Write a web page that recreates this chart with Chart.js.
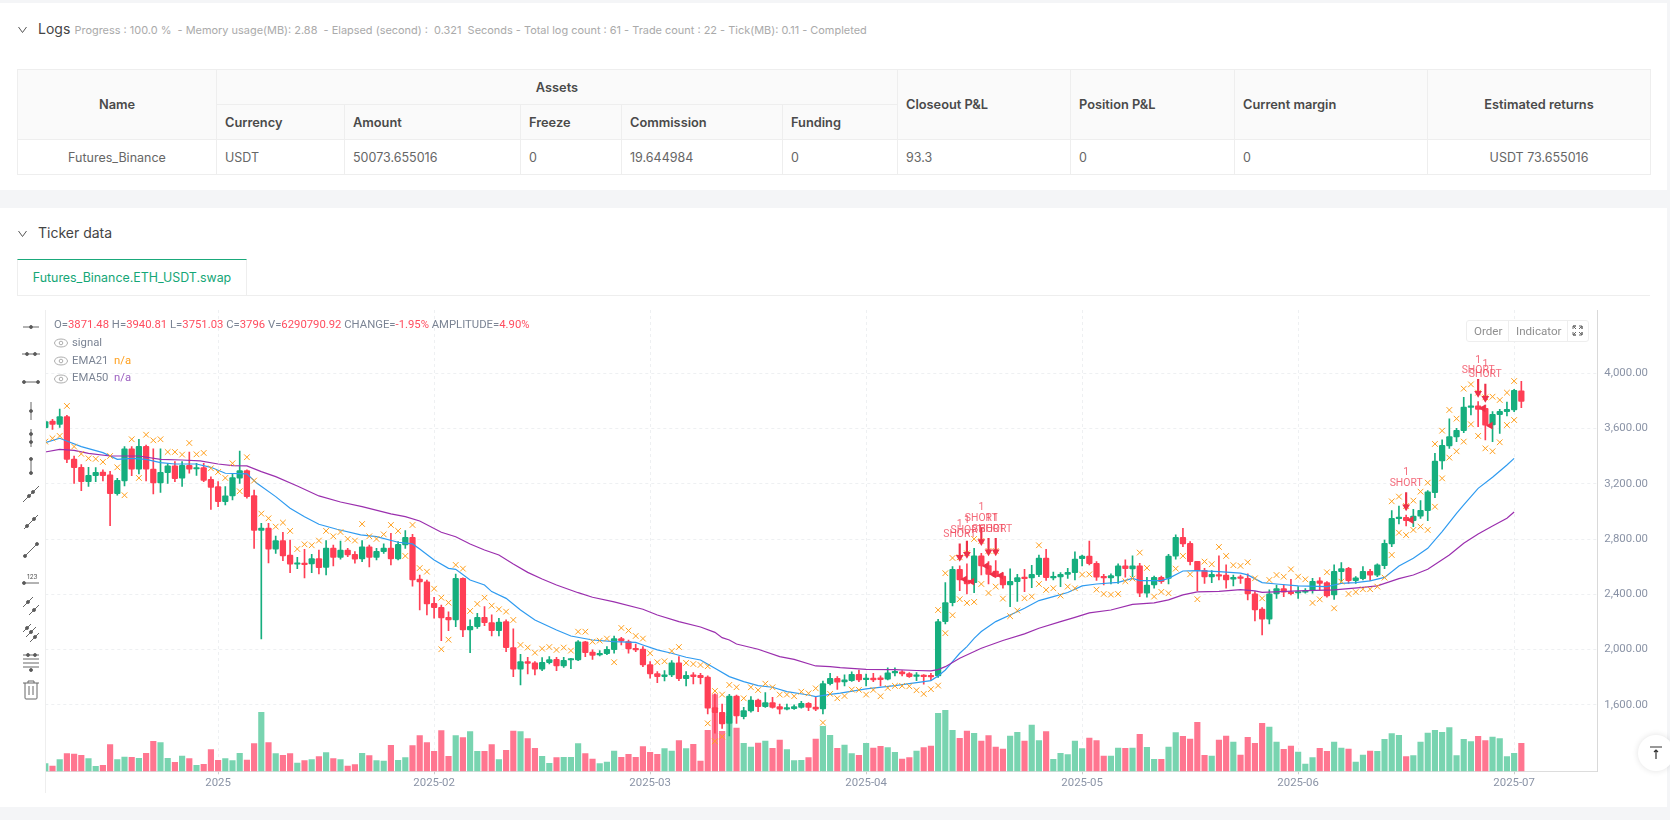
<!DOCTYPE html>
<html>
<head>
<meta charset="utf-8">
<title>Ticker data</title>
<script src="https://cdn.jsdelivr.net/npm/chart.js@4/dist/chart.umd.min.js"></script>
<style>
  html, body { margin: 0; padding: 0; width: 1670px; height: 820px; overflow: hidden; background: #f4f5f7; font-family: Inter, "Noto Sans", sans-serif; color: #555; }
  .panel { position: absolute; left: 0; width: 1667px; background: #fff; }
  .abs { position: absolute; white-space: nowrap; }
  .head { font-size: 14px; color: #444; line-height: 20px; }
  .chev { position: absolute; left: 18px; width: 9px; height: 9px; }
  table { position: absolute; left: 17px; top: 69px; width: 1633px; border-collapse: collapse; table-layout: fixed; font-size: 12.5px; color: #666; }
  th, td { border: 1px solid #eee; padding: 0 8px; text-align: left; font-weight: 400; }
  th { background: #fafafa; color: #4a4a4a; font-weight: 600; height: 34px; font-size: 12.8px; }
  td { height: 34px; }
  .c { text-align: center; }
  #tab { left: 17px; top: 259px; width: 228px; height: 35px; border: 1px solid #eee; border-top: 1.5px solid #1aa97b; border-bottom: 0; color: #14a676; font-size: 12.4px; line-height: 35px; text-align: center; box-sizing: content-box; }
  #sep { left: 17px; top: 295px; width: 1633px; height: 1px; background: #eee; }
  #chart { position: absolute; left: 0; top: 300px; }
  #lefty { left: 45px; top: 310px; width: 1px; height: 483px; background: #eee; }
  .leg { font-family: Roboto, sans-serif; font-size: 11.3px; color: #7b8494; line-height: 16px; }
  .leg b { font-weight: 400; color: #ff4d5f; }
  .eye { position: absolute; left: 54px; width: 14px; height: 10px; }
  .tool { position: absolute; left: 20px; width: 22px; height: 22px; }
  #btns { left: 1466px; top: 320px; width: 121px; height: 20px; border: 1px solid #eee; border-radius: 3px; background: #fff; font-family: Roboto, sans-serif; font-size: 11.6px; color: #8f8f8f; line-height: 20px; }
  #btns span { position: absolute; top: 0; }
  #up { left: 1638px; top: 735px; width: 36px; height: 36px; border-radius: 18px; background: #fff; box-shadow: 0 0 6px rgba(0,0,0,.12); }
</style>
</head>
<body>
<div class="panel" style="top:3px;height:187px"></div>
<div class="panel" style="top:208px;height:599px"></div>

<svg class="chev" style="top:25px" viewBox="0 0 9 9"><path d="M.5 2 4.5 7.5 8.5 2" fill="none" stroke="#555"/></svg>
<div class="abs head" style="left:38px;top:19px">Logs</div>
<div class="abs" style="left:74.5px;top:22px;font-size:10.95px;color:#aaa;line-height:16px;white-space:pre">Progress : 100.0 %  - Memory usage(MB): 2.88  - Elapsed (second) :  0.321  Seconds - Total log count : 61 - Trade count : 22 - Tick(MB): 0.11 - Completed</div>

<table>
  <colgroup>
    <col style="width:199px"><col style="width:128px"><col style="width:176px"><col style="width:101px"><col style="width:161px"><col style="width:115px"><col style="width:173px"><col style="width:164px"><col style="width:193px"><col style="width:223px">
  </colgroup>
  <tr><th class="c" rowspan="2">Name</th><th class="c" colspan="5">Assets</th><th rowspan="2">Closeout P&amp;L</th><th rowspan="2">Position P&amp;L</th><th rowspan="2">Current margin</th><th class="c" rowspan="2">Estimated returns</th></tr>
  <tr><th>Currency</th><th>Amount</th><th>Freeze</th><th>Commission</th><th>Funding</th></tr>
  <tr><td class="c">Futures_Binance</td><td>USDT</td><td>50073.655016</td><td>0</td><td>19.644984</td><td>0</td><td>93.3</td><td>0</td><td>0</td><td class="c">USDT 73.655016</td></tr>
</table>

<svg class="chev" style="top:229px" viewBox="0 0 9 9"><path d="M.5 2 4.5 7.5 8.5 2" fill="none" stroke="#555"/></svg>
<div class="abs head" style="left:38px;top:223px">Ticker data</div>
<div class="abs" id="tab">Futures_Binance.ETH_USDT.swap</div>
<div class="abs" id="sep"></div>

<canvas id="chart" width="1670" height="506"></canvas>
<div class="abs" id="lefty"></div>
<div id="tools"></div>

<div class="abs leg" style="left:54px;top:317px">O=<b>3871.48</b> H=<b>3940.81</b> L=<b>3751.03</b> C=<b>3796</b> V=<b>6290790.92</b> CHANGE=<b>-1.95%</b> AMPLITUDE=<b>4.90%</b></div>
<div class="abs leg" style="left:72px;top:335px">signal</div>
<div class="abs leg" style="left:72px;top:353px">EMA21 &nbsp;<span style="color:#ff9f1c">n/a</span></div>
<div class="abs leg" style="left:72px;top:370px">EMA50 &nbsp;<span style="color:#9c5fc0">n/a</span></div>
<svg class="eye" style="top:338px" viewBox="0 0 14 10"><ellipse cx="7" cy="5" rx="6.5" ry="4" fill="none" stroke="#999" stroke-width=".8"/><circle cx="7" cy="5" r="1.8" fill="none" stroke="#999" stroke-width=".8"/></svg>
<svg class="eye" style="top:356px" viewBox="0 0 14 10"><ellipse cx="7" cy="5" rx="6.5" ry="4" fill="none" stroke="#999" stroke-width=".8"/><circle cx="7" cy="5" r="1.8" fill="none" stroke="#999" stroke-width=".8"/></svg>
<svg class="eye" style="top:374px" viewBox="0 0 14 10"><ellipse cx="7" cy="5" rx="6.5" ry="4" fill="none" stroke="#999" stroke-width=".8"/><circle cx="7" cy="5" r="1.8" fill="none" stroke="#999" stroke-width=".8"/></svg>

<div class="abs" id="btns">
  <span style="left:7px">Order</span>
  <span style="left:41px;top:0;width:1px;height:20px;background:#eee"></span>
  <span style="left:49px">Indicator</span>
  <span style="left:100px;top:0;width:1px;height:20px;background:#eee"></span>
  <svg style="position:absolute;left:105px;top:4px" width="11" height="11" viewBox="0 0 11 11"><path d="M1 4V1H4L1 1 4 4M7 1H10V4L10 1 7 4M1 7V10H4L1 10 4 7M7 10H10V7L10 10 7 7" fill="none" stroke="#666"/></svg>
</div>
<div class="abs" id="up"><svg style="position:absolute;left:11px;top:11px" width="14" height="14" viewBox="0 0 14 14"><path d="M1 1H13M7 13V4M5 6 7 4 9 6" fill="none" stroke="#333" stroke-width="1.2"/></svg></div>

<script>
// daily bars
const opens = [
  3606,3654,3630,3686,3379,3319,3215,3259,3285,3264,
  3129,3220,3452,3305,3471,3307,3206,3280,3329,3240,
  3334,3307,3317,3232,3179,3071,3112,3240,3295,3114,
  2863,2880,2726,2789,2685,2618,2627,2620,2658,2595,
  2735,2668,2721,2690,2656,2743,2668,2709,2735,2656,
  2757,2813,2511,2490,2335,2306,2234,2215,2516,2142,
  2166,2234,2195,2138,2203,2015,1858,1913,1904,1858,
  1906,1930,1882,1925,1925,2056,1983,1962,1971,2000,
  2080,2058,2010,2005,1892,1827,1805,1817,1904,1790,
  1817,1814,1802,1581,1547,1467,1665,1516,1556,1636,
  1588,1617,1588,1569,1573,1583,1612,1585,1571,1754,
  1793,1767,1776,1822,1783,1795,1797,1786,1832,1839,
  1827,1807,1815,1815,1810,2203,2340,2581,2504,2485,
  2678,2608,2569,2533,2468,2492,2524,2519,2543,2663,
  2519,2526,2545,2557,2659,2676,2625,2528,2519,2533,
  2606,2584,2606,2408,2468,2524,2516,2676,2813,2770,
  2639,2574,2526,2543,2540,2509,2526,2516,2403,2294,
  2220,2403,2441,2417,2410,2415,2427,2497,2485,2396,
  2564,2588,2499,2514,2567,2538,2608,2765,2948,2957,
  2933,2965,3006,3136,3365,3473,3538,3584,3753,3763,
  3746,3625,3700,3722,3734,3871.48
];
const highs = [
  3660,3666,3741,3695,3401,3338,3319,3317,3300,3290,
  3240,3469,3469,3522,3480,3452,3452,3348,3360,3360,
  3430,3348,3348,3250,3215,3180,3276,3437,3300,3155,
  2914,2914,2822,2849,2793,2668,2726,2690,2720,2789,
  2757,2786,2733,2709,2789,2757,2733,2765,2842,2781,
  2861,2834,2540,2504,2379,2323,2273,2547,2520,2215,
  2263,2311,2251,2227,2215,2150,1966,1945,1913,1942,
  1950,1945,1945,1937,2065,2060,1998,1993,2022,2099,
  2089,2070,2041,2022,1913,1841,1848,1921,1950,1841,
  1834,1829,1810,1680,1607,1677,1672,1583,1660,1643,
  1689,1655,1607,1607,1600,1626,1617,1655,1773,1829,
  1805,1817,1839,1853,1824,1829,1810,1868,1868,1849,
  1834,1834,1820,1829,2220,2485,2601,2606,2620,2733,
  2697,2637,2644,2557,2584,2545,2581,2610,2685,2726,
  2562,2557,2589,2707,2685,2786,2637,2545,2548,2620,
  2649,2678,2625,2524,2533,2533,2690,2830,2878,2781,
  2639,2589,2572,2678,2613,2540,2540,2548,2420,2304,
  2432,2468,2468,2509,2456,2441,2516,2521,2492,2613,
  2629,2596,2528,2601,2581,2620,2793,3006,3039,2974,
  3015,3078,3150,3420,3517,3669,3601,3825,3849,3794,
  3770,3722,3738,3791,3883,3940.81
];
const lows = [
  3600,3594,3608,3353,3203,3150,3180,3215,3220,2897,
  3117,3184,3259,3271,3220,3126,3138,3203,3215,3180,
  3276,3261,3215,3015,3035,3047,3083,3203,3095,2733,
  2077,2627,2697,2644,2557,2586,2518,2557,2547,2540,
  2605,2654,2673,2625,2637,2598,2649,2697,2613,2649,
  2733,2460,2287,2251,2227,2065,2138,2166,2094,1978,
  2154,2174,2099,2099,1986,1805,1745,1824,1817,1848,
  1896,1848,1872,1863,1920,1950,1930,1954,1964,1974,
  2034,1974,1986,1877,1793,1762,1774,1805,1776,1737,
  1752,1752,1535,1395,1431,1376,1467,1499,1547,1552,
  1583,1576,1535,1564,1568,1576,1559,1559,1535,1744,
  1713,1738,1771,1769,1738,1769,1738,1781,1810,1810,
  1800,1776,1750,1776,1800,2186,2316,2427,2403,2413,
  2540,2475,2524,2444,2311,2348,2420,2449,2528,2500,
  2504,2456,2516,2504,2606,2613,2500,2468,2475,2480,
  2524,2528,2384,2379,2444,2480,2475,2654,2745,2613,
  2427,2480,2485,2504,2444,2461,2480,2360,2208,2106,
  2186,2371,2384,2396,2371,2408,2408,2432,2379,2364,
  2490,2480,2480,2504,2499,2528,2586,2745,2909,2895,
  2890,2950,2933,3100,3305,3456,3505,3570,3698,3613,
  3517,3505,3565,3690,3722,3751.03
];
const closes = [
  3649,3630,3686,3377,3317,3215,3261,3283,3259,3129,
  3225,3452,3305,3471,3305,3206,3283,3329,3237,3334,
  3305,3317,3225,3174,3071,3112,3244,3295,3107,2863,
  2880,2726,2789,2678,2618,2627,2615,2658,2593,2735,
  2668,2721,2685,2654,2743,2668,2712,2735,2656,2762,
  2813,2504,2490,2330,2304,2229,2215,2516,2142,2169,
  2234,2195,2138,2200,2015,1858,1913,1901,1858,1908,
  1928,1882,1923,1933,2056,1978,1959,1974,2003,2080,
  2063,2005,1998,1889,1824,1805,1817,1904,1790,1814,
  1805,1798,1576,1544,1463,1665,1520,1559,1636,1588,
  1617,1583,1569,1581,1588,1612,1583,1569,1754,1793,
  1764,1781,1822,1781,1795,1781,1783,1832,1839,1824,
  1805,1815,1805,1803,2203,2340,2581,2504,2475,2678,
  2606,2545,2528,2468,2495,2521,2514,2545,2663,2521,
  2531,2545,2560,2656,2676,2622,2524,2519,2536,2606,
  2586,2606,2408,2468,2524,2492,2676,2813,2765,2637,
  2572,2526,2545,2531,2504,2524,2516,2403,2287,2220,
  2403,2441,2415,2405,2417,2429,2494,2480,2388,2567,
  2586,2499,2519,2567,2538,2613,2769,2950,2957,2933,
  2967,3008,3141,3365,3478,3541,3587,3755,3763,3738,
  3623,3702,3724,3738,3876,3796
];
// volume in units of about 75k
const volumes = [
  23,16,35,53,52,48,38,15,18,80,
  35,43,42,39,54,90,86,39,27,46,
  38,18,21,65,33,38,32,54,34,83,
  177,86,53,48,53,25,32,35,44,56,
  38,35,16,20,54,47,32,31,78,33,
  41,77,107,86,60,122,45,107,101,119,
  60,60,80,35,63,121,119,98,69,45,
  24,41,42,42,83,53,37,23,28,61,
  42,51,42,74,57,51,68,61,92,68,
  81,31,123,230,120,165,130,84,73,85,
  91,69,94,65,32,33,41,97,135,108,
  69,79,53,48,84,70,75,71,57,37,
  41,61,71,76,174,183,123,99,121,114,
  91,107,73,67,106,117,91,139,92,119,
  36,54,50,91,68,100,92,46,46,70,
  69,70,111,72,36,36,73,116,105,97,
  147,48,46,94,106,88,49,102,84,144,
  133,88,66,76,58,22,41,69,60,88,
  70,67,28,49,61,60,96,113,108,44,
  47,88,115,123,117,131,47,96,89,105,
  92,103,98,44,54,84
];
// orange x marks, one per bar
const signalA = [
  3505,3529,3546,3763,3469,3416,3384,3380,3358,3401,
  3319,3117,3522,3242,3555,3514,3522,3430,3430,3411,
  3495,3413,3423,3312,3285,3242,3348,3146,3392,3223,
  2984,2950,2890,2919,2859,2728,2762,2755,2789,2859,
  2820,2851,2801,2789,2909,2820,2801,2834,2902,2859,
  2678,2902,2590,2564,2441,2376,2340,2613,2586,2280,
  2331,2376,2318,2292,2275,2215,2034,2015,1978,2007,
  2019,1998,2015,1993,2130,2130,2058,2065,2080,1909,
  2157,2138,2099,2080,1974,1909,1916,1990,2019,1904,
  1896,1889,1880,1701,1675,1745,1728,1648,1728,1708,
  1754,1728,1675,1675,1663,1696,1684,1720,1472,1680,
  1648,1665,1711,1709,1675,1709,1663,1723,1738,1738,
  1735,1706,1680,1714,1740,2553,2663,2668,2697,2801,
  2786,2714,2714,2369,2242,2283,2372,2384,2755,2432,
  2444,2391,2456,2444,2543,2545,2434,2403,2398,2403,
  2495,2514,2702,2591,2384,2418,2408,2586,2678,2545,
  2365,2637,2618,2743,2678,2611,2606,2632,2516,2371,
  2504,2540,2528,2581,2528,2509,2338,2364,2560,2299,
  2492,2403,2417,2437,2437,2456,2521,3073,3107,3039,
  3078,3143,3208,3488,3584,3734,3671,3888,3919,3859,
  3825,3830,3806,3859,3943,null
];
// bars that carry a second x mark
const signalBIdx = [55,56,92,93,94,124,125,126,127,128,129,130,131,132,138,187,188,189,190,191,192,193,194,195,196,197,198,199,200,201,202,203,204];
const signalB = [2003,2072,1467,1337,1371,2287,2119,2249,2365,2338,2345,2475,2410,2456,2475,2685,2846,2829,2866,2890,2866,3034,3239,3389,3435,3505,3630,3546,3456,3435,3500,3625,3661];

// indicator lines, vertices read at these bars
const ema21Idx = [0,2,5,8,10,12,14,16,18,21,23,25,28,29.4,32,34,36,38,40.5,43.8,46,49,51,52,54,56,57,59,61,62,64,66,68,71,73,76,79,82,83,85,87,89,91,93,95,97,99,101,103,106,107,109,110.4,114,118,123,124,125,126,127,128,129,130,132,134,136,138,140,142,144,146,149,151,152,155,156,158,160,163,166,167,169,171,174,178,180,182,184,186,188,190,192,194,196,197,199,201,203,204];
const ema21 = [3498,3529,3469,3425,3377,3384,3377,3353,3343,3343,3319,3276,3271,3203,3107,3023,2962,2907,2871,2830,2818,2777,2765,2728,2649,2588,2581,2504,2468,2420,2371,2287,2215,2142,2099,2070,2058,2053,2034,1998,1974,1945,1925,1865,1805,1769,1740,1728,1696,1672,1660,1677,1685,1716,1740,1776,1810,1853,1914,1974,2022,2082,2131,2203,2251,2299,2355,2384,2413,2461,2475,2487,2516,2500,2500,2516,2569,2572,2565,2553,2541,2485,2475,2461,2456,2480,2485,2497,2523,2605,2661,2733,2854,2986,3047,3167,3247,3336,3384];
const ema50Idx = [0,2,4,6,9,13,16,19,21.5,24,26,28,30,32,35,38,41,44,48,50,52,55,57,59,61,63,65,67,69,71,74,76,79,83,85,88,91,93,94,95,96,99,102,104,107,109,110.4,114,118,121,123,124,125,127,130,133,136,138,141,143,145,148,151,154,156,158,160,163,166,168,169,174,179,183,185,188,190,192,195,197,199,201,203,204];
const ema50 = [3430,3449,3442,3420,3401,3401,3377,3372,3365,3343,3331,3329,3288,3252,3184,3112,3068,3035,2982,2962,2931,2849,2817,2764,2721,2685,2620,2559,2511,2468,2412,2379,2345,2292,2251,2203,2164,2125,2087,2070,2041,2003,1950,1930,1882,1877,1870,1858,1856,1849,1846,1856,1877,1938,2010,2066,2114,2155,2203,2234,2266,2287,2328,2338,2360,2396,2418,2422,2434,2425,2415,2425,2432,2451,2461,2514,2540,2581,2685,2769,2837,2895,2950,2996];

// short entries: arrow top, arrow tip, label values
const shortIdx = [127,128,130,131,132,189,199,200];
const shortTop = [2765,2786,2878,2806,2806,3136,3956,3922];
const shortTip = [2668,2690,2782,2709,2709,3034,3854,3818];
const shortText = [2832,2861,2946,2868,2868,3201,4018,3989];
const shortCount = [2909,2938,3028,2946,2946,3280,4095,4066];
// fill markers beside the entries
const fillIdx = [127.7,128.7,130.7,131.7,132.7,189.7,199.7,200.7];
const fillVal = [2509,2492,2606,2545,2536,2938,3746,3620];

const priceTicks = [1600,2000,2400,2800,3200,3600,4000];
const monthIdx = [24,54,84,114,144,174,204];
const monthLabels = ['2025','2025-02','2025-03','2025-04','2025-05','2025-06','2025-07'];

const UP = '#16ae7e', DOWN = '#ff3f55', VOL_UP = '#78d4b0', VOL_DOWN = '#ff7690';
const isUp = i => closes[i] >= opens[i];
const idx = opens.map((_, i) => i);
const pairs = (xs, ys) => xs.map((x, i) => ({ x, y: ys[i] }));

// left drawing toolbar
const dot = (x, y) => `<circle cx="${x}" cy="${y}" r="1.5" fill="#555"/>`;
const ln = (a, b, c, d) => `<path d="M${a} ${b}L${c} ${d}"/>`;
const toolIcons = [
  [327, ln(3,11,19,11) + dot(11,11)],
  [354, ln(2,11,20,11) + dot(7,11) + dot(15,11)],
  [382, ln(4,11,18,11) + dot(4,11) + dot(18,11)],
  [411, ln(11,2,11,20) + dot(11,11)],
  [438, ln(11,2,11,20) + dot(11,7) + dot(11,15)],
  [466, ln(11,4,11,18) + dot(11,4) + dot(11,18)],
  [494, ln(3,19,19,3) + dot(9,13) + dot(13,9)],
  [522, ln(4,18,18,4) + dot(7,15) + dot(14,8)],
  [550, ln(5,17,17,5) + dot(5,17) + dot(17,5)],
  [578, ln(4,16,19,16) + dot(4,16) + '<text x="7" y="12" font-size="6.5" fill="#555" stroke="none">123</text>'],
  [606, ln(3,12,13,2) + ln(9,20,19,10) + dot(8,7) + dot(14,15)],
  [633, ln(3,10,11,2) + ln(6,15,16,5) + ln(10,20,19,11) + dot(7,6) + dot(11,10) + dot(15,15)],
  [662, ln(3,4,19,4) + ln(3,8,19,8) + ln(3,12,19,12) + ln(3,16,19,16) + dot(8,4) + dot(15,4) + dot(11,19)],
  [690, ln(3,4,19,4) + '<path d="M8 4V2H14V4M5 4V19Q5 20 6 20H16Q17 20 17 19V4M9 7V16M13 7V16"/>']
];
document.getElementById('tools').innerHTML = toolIcons.map(([y, body]) =>
  `<svg class="tool" style="top:${y - 11}px" viewBox="0 0 22 22" fill="none" stroke="#666" stroke-width="1">${body}</svg>`).join('');

// "1" / "SHORT" labels above the arrows
const shortLabels = {
  id: 'shortLabels',
  afterDatasetsDraw(chart) {
    const { ctx, scales } = chart;
    ctx.save();
    ctx.font = '10.4px Roboto';
    ctx.fillStyle = 'rgba(240,70,90,.8)';
    ctx.textAlign = 'center';
    ctx.textBaseline = 'middle';
    shortIdx.forEach((b, i) => {
      const x = scales.x.getPixelForValue(b);
      ctx.fillText('SHORT', x, scales.y.getPixelForValue(shortText[i]));
      ctx.fillText('1', x, scales.y.getPixelForValue(shortCount[i]));
    });
    ctx.restore();
  }
};

const volumeSet = {
  type: 'bar', yAxisID: 'y1', order: 9, barThickness: 5.5,
  data: idx.map(i => ({ x: i, y: volumes[i] })),
  backgroundColor: idx.map(i => isUp(i) ? VOL_UP : VOL_DOWN)
};
const wickSet = {
  type: 'bar', order: 8, barThickness: 1,
  data: idx.map(i => ({ x: i, y: [lows[i], highs[i]] })),
  backgroundColor: idx.map(i => isUp(i) ? UP : DOWN)
};
const bodySet = {
  type: 'bar', order: 7, barThickness: 5.6, minBarLength: 1.5,
  data: idx.map(i => ({ x: i, y: [Math.min(opens[i], closes[i]), Math.max(opens[i], closes[i])] })),
  backgroundColor: idx.map(i => isUp(i) ? UP : DOWN),
  borderRadius: 1, borderSkipped: false
};
const lineStyle = color => ({
  type: 'line', borderColor: color, borderWidth: 1.2, pointRadius: 0, tension: 0, fill: false
});
const marks = (data, order) => ({
  type: 'line', showLine: false, order, data,
  pointStyle: 'crossRot', pointRadius: 4, pointBorderColor: '#ff9f1c', pointBorderWidth: 1, pointBackgroundColor: '#ff9f1c'
});

new Chart(document.getElementById('chart'), {
  type: 'bar',
  plugins: [shortLabels],
  data: {
    datasets: [
      volumeSet, wickSet, bodySet,
      { ...lineStyle('#2f9bf0'), order: 6, data: pairs(ema21Idx, ema21) },
      { ...lineStyle('#9b2fae'), order: 5, data: pairs(ema50Idx, ema50) },
      marks(pairs(idx, signalA).filter(p => p.y !== null), 4),
      marks(pairs(signalBIdx, signalB), 4),
      { type: 'line', showLine: false, order: 3, data: pairs(fillIdx, fillVal),
        pointStyle: 'triangle', rotation: -90, pointRadius: 4.5, pointBackgroundColor: '#ee3048', pointBorderColor: '#ee3048', pointBorderWidth: 0 },
      { type: 'bar', order: 2, barThickness: 1.5, backgroundColor: '#ee3048',
        data: shortIdx.map((b, i) => ({ x: b, y: [shortTip[i], shortTop[i]] })) },
      { type: 'line', showLine: false, order: 1, data: pairs(shortIdx, shortTip),
        pointStyle: 'triangle', rotation: 180, pointRadius: 4.5, pointBackgroundColor: '#ee3048', pointBorderColor: '#ee3048', pointBorderWidth: 0 }
    ]
  },
  options: {
    responsive: false,
    animation: false,
    events: [],
    layout: { padding: { left: 45.3, top: 10, right: 0, bottom: 0 } },
    datasets: { bar: { grouped: false } },
    plugins: { legend: { display: false }, tooltip: { enabled: false } },
    scales: {
      x: {
        type: 'linear', offset: false, bounds: 'data', min: 0, max: 215.55,
        grid: { offset: false, color: '#eef0f2', tickLength: 3, tickColor: '#ccc', drawTicks: true },
        border: { color: '#ddd', dash: [3, 3], width: 1 },
        afterBuildTicks: scale => { scale.ticks = monthIdx.map(value => ({ value })); },
        afterFit: scale => { scale.height = 34.7; scale.paddingLeft = 0; scale.paddingRight = 0; },
        ticks: {
          autoSkip: false, maxRotation: 0, padding: 2, color: '#8a93a6', font: { family: 'Roboto', size: 11.4 },
          callback: value => monthLabels[monthIdx.indexOf(value)]
        }
      },
      y: {
        position: 'right', bounds: 'data', min: 1120, max: 4457,
        grid: { color: '#eef0f2', tickLength: 0 },
        border: { color: '#d9d9d9', dash: [3, 3], width: 1 },
        afterBuildTicks: scale => { scale.ticks = priceTicks.map(value => ({ value })); },
        afterFit: scale => { scale.width = 72.7; scale.paddingTop = 0; scale.paddingBottom = 0; },
        ticks: {
          padding: 7, color: '#8a93a6', font: { family: 'Roboto', size: 11.4 },
          callback: value => value.toLocaleString('en-US', { minimumFractionDigits: 2 })
        }
      },
      y1: { display: false, min: 0, max: 1384 }
    }
  }
});
</script>
</body>
</html>
